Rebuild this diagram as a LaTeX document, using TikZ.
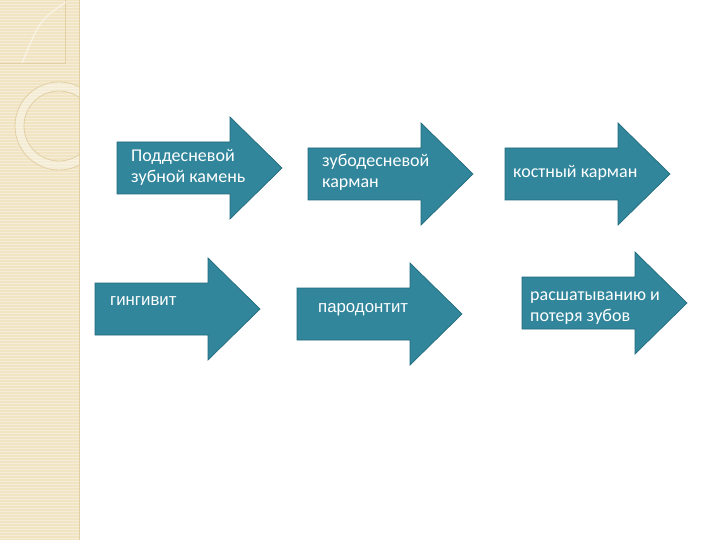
\documentclass[tikz,border=0pt]{standalone}
\usepackage{fontspec}
\setmainfont{Carlito}
\newfontfamily\arialfont{Liberation Sans}
\usepackage{xcolor}
\usetikzlibrary{positioning}

\definecolor{arrowteal}{HTML}{31869C}
\definecolor{arrowedge}{HTML}{236B7D}
\definecolor{stripebg}{HTML}{F1E4C3}
\definecolor{stripeline}{HTML}{E2D0A4}

\begin{document}
\begin{tikzpicture}[x=1pt,y=-1pt,
  lbl/.style={text=white,font=\fontsize{18}{21.5}\selectfont,align=left,inner sep=0pt,anchor=west},
  lbs/.style={text=white,font=\arialfont\fontsize{16.8}{20}\selectfont,inner sep=0pt,anchor=west},
  pics/stagearrow/.style={code={
    \filldraw[fill=arrowteal,draw=arrowedge,line width=0.7pt]
      (0,-26) -- (113,-26) -- (113,-51) -- (165,0) -- (113,51) -- (113,26) -- (0,26) -- cycle;}}]
\useasboundingbox[fill=white] (0,0) rectangle (720,540);
% left stripe
\fill[stripebg] (0,0) rectangle (79,540);
\foreach \y in {1,4,...,540}
  \draw[white,opacity=0.35,line width=0.7pt] (0,\y) -- (79,\y);
\draw[stripeline,line width=0.6pt] (79,0) -- (79,540);
\begin{scope}
  \clip (0,0) rectangle (79,540);
  \draw[stripeline,line width=0.8pt] (65,0) -- (65,63) -- (0,63);
  \draw[white,opacity=0.6,line width=1pt] (66,2) .. controls (40,20) .. (22,63);
  \fill[white,opacity=0.3,even odd rule] (59,126) circle (44) (59,126) circle (35);
  \draw[stripeline,line width=0.8pt] (59,126) circle (44);
  \draw[stripeline,line width=0.8pt] (59,126) circle (35);
\end{scope}
% arrows
\pic at (117,168) {stagearrow};
\pic at (308,174) {stagearrow};
\pic at (505,174) {stagearrow};
\pic at (95,309) {stagearrow};
\pic at (297,314) {stagearrow};
\pic at (522,303) {stagearrow};
% labels
\node[lbl] (kamen)    at (131,167.5) {Поддесневой\\зубной камень};
\node[lbl] (karman)   at (322,172.5) {зубодесневой\\карман};
\node[lbl] (kostn)    at (513,173)   {костный карман};
\node[lbs] (gingiv)   at (110,301)   {гингивит};
\node[lbs] (parodont) at (318,310)   {пародонтит};
\node[lbl] (rasshat)  at (530,308)   {расшатыванию и\\потеря зубов};
\end{tikzpicture}
\end{document}
